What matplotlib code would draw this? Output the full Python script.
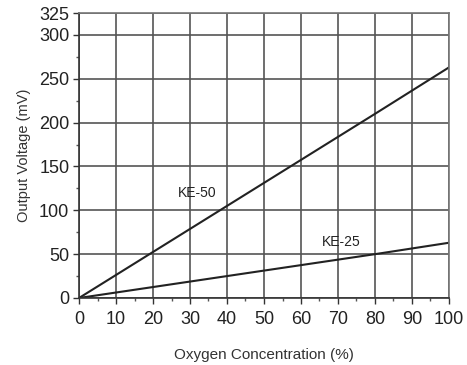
import matplotlib
matplotlib.use("Agg")
import matplotlib.pyplot as plt
from matplotlib.ticker import MultipleLocator

plt.rcParams['font.family'] = ['Liberation Sans', 'DejaVu Sans']

# oxygen concentration (%) and sensor output (mV)
oxygen = [0, 20, 40, 60, 80, 100]
ke50 = [0, 52.5, 105, 157.5, 210, 263]
ke25 = [0, 12.5, 25, 37.5, 50, 63]

x_ticks = list(range(0, 101, 10))
y_ticks = [0, 50, 100, 150, 200, 250, 300, 325]

fig = plt.figure(figsize=(4.67, 3.65), dpi=100)
ax = fig.add_axes([79 / 467, 1 - 298 / 365, 370 / 467, 285 / 365])

ax.plot(oxygen, ke50, color='#222222', lw=1.5)
ax.plot(oxygen, ke25, color='#222222', lw=1.5)

ax.set_xlim(0, 100)
ax.set_ylim(0, 325)
ax.set_xticks(x_ticks)
ax.set_yticks(y_ticks)
ax.xaxis.set_minor_locator(MultipleLocator(5))
ax.yaxis.set_minor_locator(MultipleLocator(25))
ax.tick_params(which='major', direction='out', length=4, width=1, colors='#333333',
               labelsize=13, labelcolor='#222222', pad=3)
ax.tick_params(axis='x', which='major', pad=5)
ax.tick_params(which='minor', direction='out', length=2, width=1, colors='#555555')

ax.grid(True, which='major', color='#555555', lw=1.2)
for s in ['top', 'right']:
    ax.spines[s].set_color('#777777')
    ax.spines[s].set_linewidth(1.2)
for s in ['left', 'bottom']:
    ax.spines[s].set_color('#333333')
    ax.spines[s].set_linewidth(1.2)

ax.text(32, 120, 'KE-50', fontsize=10, color='#222222', ha='center', va='center')
ax.text(71, 64, 'KE-25', fontsize=10, color='#222222', ha='center', va='center')

ax.set_xlabel('Oxygen Concentration (%)', fontsize=11, color='#333333', labelpad=15)
ax.set_ylabel('Output Voltage (mV)', fontsize=10.5, color='#333333', labelpad=6)

fig.savefig('out.png', dpi=100, facecolor='white')
